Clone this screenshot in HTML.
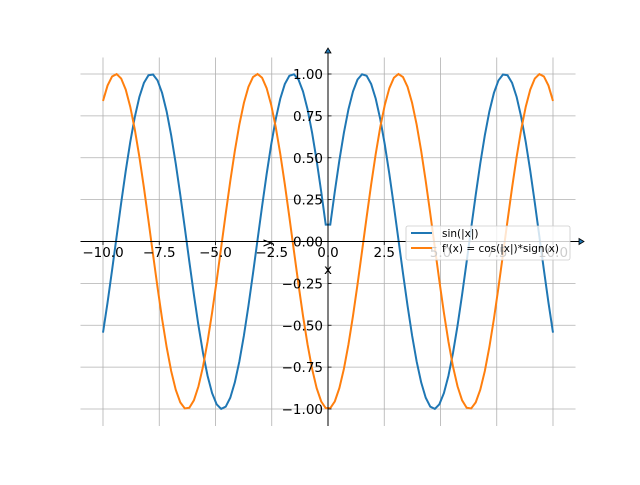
<!DOCTYPE html>
<html><head><meta charset="utf-8"><style>
html,body{margin:0;padding:0;background:#fff;}
text{font-family:"DejaVu Sans","Liberation Sans",sans-serif;font-size:13.5px;fill:#000;}
</style></head><body>
<svg id="s" width="640" height="480" xmlns="http://www.w3.org/2000/svg"></svg>
<script>
const s=document.getElementById('s');
const X=v=>328+v*22.5, Y=v=>241.5-v*167.5;
let h='';
for(let v=-10;v<=10.01;v+=2.5){h+=`<line x1="${X(v)}" y1="57.5" x2="${X(v)}" y2="426" stroke="#b0b0b0" stroke-width="0.8"/>`;}
for(let v=-1;v<=1.01;v+=0.25){h+=`<line x1="80.5" y1="${Y(v)}" x2="575.5" y2="${Y(v)}" stroke="#b0b0b0" stroke-width="0.8"/>`;}
let p1='',p2='';
for(let i=0;i<100;i++){const x=-10+20*i/99;p1+=(i?'L':'M')+X(x).toFixed(2)+','+Y(Math.sin(Math.abs(x))).toFixed(2);p2+=(i?'L':'M')+X(x).toFixed(2)+','+Y(-Math.cos(x)).toFixed(2);}
h+=`<path d="${p1}" fill="none" stroke="#1f77b4" stroke-width="2"/>`;
h+=`<path d="${p2}" fill="none" stroke="#ff7f0e" stroke-width="2"/>`;
h+=`<line x1="80.5" y1="241.5" x2="580" y2="241.5" stroke="#000" stroke-width="1"/>`;
h+=`<line x1="328" y1="426" x2="328" y2="52" stroke="#000" stroke-width="1"/>`;
h+=`<path d="M579,238.5 L584,241.5 L579,244.5Z" fill="#1f77b4" stroke="#000" stroke-width="0.8"/>`;
h+=`<path d="M325,53 L328,48 L331,53Z" fill="#1f77b4" stroke="#000" stroke-width="0.8"/>`;
for(let v=-10;v<=10.01;v+=2.5){h+=`<line x1="${X(v)}" y1="241.5" x2="${X(v)}" y2="245" stroke="#000" stroke-width="0.8"/><text x="${X(v)}" y="257" text-anchor="middle">${(v<0?'\u2212':'')+Math.abs(v).toFixed(1)}</text>`;}
for(let v=-1;v<=1.01;v+=0.25){h+=`<line x1="328" y1="${Y(v)}" x2="331.5" y2="${Y(v)}" stroke="#000" stroke-width="0.8"/><text x="323" y="${Y(v)+5}" text-anchor="end">${(v<-0.001?'\u2212':'')+Math.abs(v).toFixed(2)}</text>`;}
h+=`<text x="328" y="274" text-anchor="middle">x</text>`;
h+=`<text transform="translate(271,243) rotate(-90)" text-anchor="middle">y</text>`;
h+=`<rect x="406" y="226" width="164" height="34" rx="2" fill="#fff" fill-opacity="0.8" stroke="#ccc" stroke-width="0.8"/>`;
h+=`<line x1="411" y1="233" x2="432" y2="233" stroke="#1f77b4" stroke-width="2"/><text x="442" y="237" style="font-size:10.5px">sin(|x|)</text>`;
h+=`<line x1="411" y1="248" x2="432" y2="248" stroke="#ff7f0e" stroke-width="2"/><text x="442" y="252" style="font-size:10.5px">f'(x) = cos(|x|)*sign(x)</text>`;
s.innerHTML=h;
</script>
</body></html>
